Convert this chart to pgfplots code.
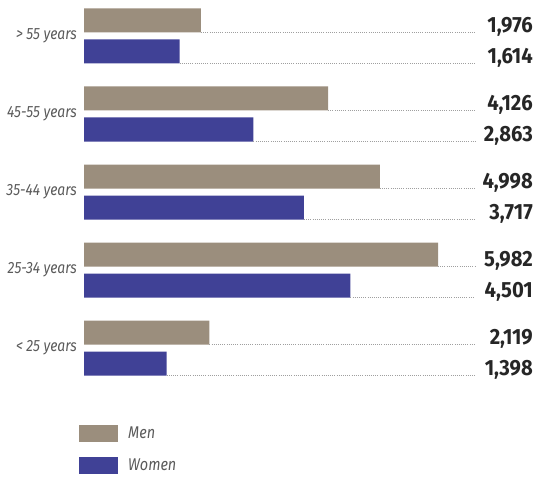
\documentclass[border=0pt]{standalone}
\usepackage{fontspec}
\setmainfont{Fira Sans}
\newfontfamily\valfont{Fira Sans}[FakeStretch=0.92]
\newfontfamily\labfont{Fira Sans}[FakeStretch=0.85]
\usepackage{pgfplots}
\pgfplotsset{compat=1.18}
\definecolor{men}{HTML}{9B8E7D}
\definecolor{women}{HTML}{404196}
\definecolor{labgray}{HTML}{5A5A5A}
\begin{document}
\begin{tikzpicture}
\begin{axis}[
  at={(84pt,90pt)}, anchor=south west,
  scale only axis, width=391pt, height=386.1pt,
  xmin=0, xmax=6607, ymin=-0.5, ymax=4.45,
  axis line style={draw=none}, major tick length=0pt, clip=false,
  xtick=\empty,
  ytick={0,1,2,3,4},
  yticklabels={< 25 years,25-34 years,35-44 years,45-55 years,> 55 years},
  yticklabel style={font=\labfont\itshape\fontsize{16.3}{16}\selectfont, text=labgray, inner sep=0pt, xshift=-7pt},
  legend style={at={(-8pt,-36pt)}, anchor=north west, draw=none, fill=none,
    font=\labfont\itshape\fontsize{17}{17}\selectfont, text=labgray,
    row sep=14pt, legend cell align=left,
    /tikz/every odd column/.append style={column sep=8pt}},
]
\addplot[xbar, bar width=24pt, fill=men, draw=none, bar shift=15.5pt,
  legend image code/.code={\fill[men] (0pt,-8.5pt) rectangle (39pt,8.5pt);}]
  coordinates {(2119,0) (5982,1) (4998,2) (4126,3) (1976,4)};
\addlegendentry{Men}
\addplot[xbar, bar width=24pt, fill=women, draw=none, bar shift=-15.5pt,
  legend image code/.code={\fill[women] (0pt,-8.5pt) rectangle (39pt,8.5pt);}]
  coordinates {(1398,0) (4501,1) (3717,2) (2863,3) (1614,4)};
\addlegendentry{Women}
% dotted leader lines at the bottom edge of each bar
\pgfplotsset{leader/.style={draw=gray!75, line width=0.55pt, dash pattern=on 0.55pt off 1.6pt, forget plot, mark=none}}
\addplot[leader] coordinates {(2119,0.045) (6607,0.045)};
\addplot[leader] coordinates {(5982,1.045) (6607,1.045)};
\addplot[leader] coordinates {(4998,2.045) (6607,2.045)};
\addplot[leader] coordinates {(4126,3.045) (6607,3.045)};
\addplot[leader] coordinates {(1976,4.045) (6607,4.045)};
\addplot[leader] coordinates {(1398,-0.353) (6607,-0.353)};
\addplot[leader] coordinates {(4501,0.647) (6607,0.647)};
\addplot[leader] coordinates {(3717,1.647) (6607,1.647)};
\addplot[leader] coordinates {(2863,2.647) (6607,2.647)};
\addplot[leader] coordinates {(1614,3.647) (6607,3.647)};
% value labels
\addplot[forget plot, only marks, mark=none, draw=none,
  nodes near coords, point meta=explicit symbolic,
  every node near coord/.style={anchor=base east, inner sep=0pt,
    font=\valfont\bfseries\fontsize{22}{22}\selectfont, text=black!85}]
  coordinates {
    (7587,0.045) [2,119] (7587,1.045) [5,982] (7587,2.045) [4,998]
    (7587,3.045) [4,126] (7587,4.045) [1,976]
    (7587,-0.353) [1,398] (7587,0.647) [4,501] (7587,1.647) [3,717]
    (7587,2.647) [2,863] (7587,3.647) [1,614]};
\end{axis}
\pgfresetboundingbox
\path (0,0) rectangle (537pt,477pt);
\end{tikzpicture}
\end{document}
